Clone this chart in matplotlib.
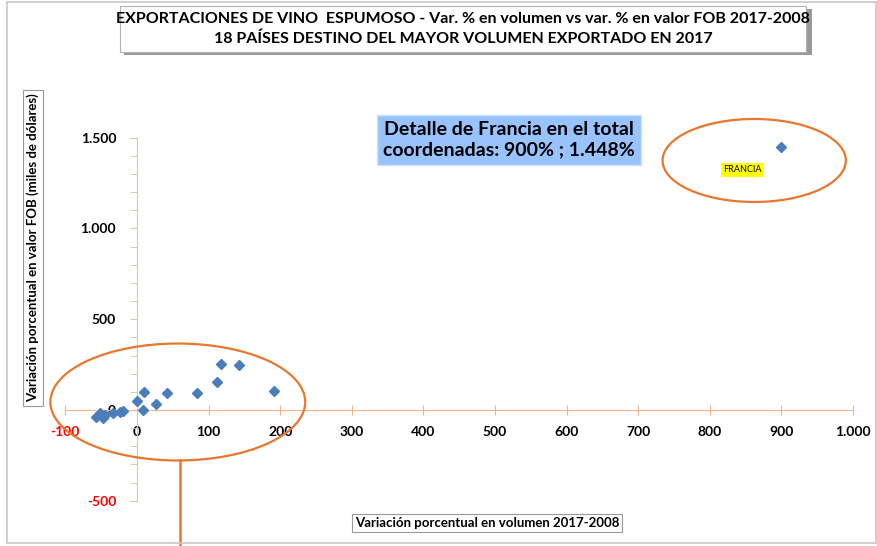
import matplotlib.pyplot as plt
from matplotlib.patches import Ellipse, Rectangle
from matplotlib.ticker import FixedLocator

plt.rcParams['font.family'] = ['Lato', 'DejaVu Sans']

# variación % en volumen (x) y en valor FOB (y), 18 países
vol_var = [-57, -52, -47, -45, -33, -24, -20, 0, 8, 10, 26, 42, 84, 112, 117, 143, 192, 900]
fob_var = [-40, -15, -46, -30, -18, -11, -4, 51, 0, 97, 33, 92, 95, 154, 255, 246, 103, 1448]

x_ticks = [-100, 0, 100, 200, 300, 400, 500, 600, 700, 800, 900, 1000]
x_labels = ['-100', '0', '100', '200', '300', '400', '500', '600', '700', '800', '900', '1.000']
y_ticks = [-500, 0, 500, 1000, 1500]
y_labels = ['-500', '0', '500', '1.000', '1.500']
y_minor = list(range(-500, 1501, 100))

title = ("EXPORTACIONES DE VINO  ESPUMOSO - Var. % en volumen vs var. % en valor FOB 2017-2008\n"
         "18 PAÍSES DESTINO DEL MAYOR VOLUMEN EXPORTADO EN 2017")
xlabel = "Variación porcentual en volumen 2017-2008"
ylabel = "Variación porcentual en valor FOB (miles de dólares)"
nota = "Detalle de Francia en el total\ncoordenadas: 900% ; 1.448%"

W, H = 878, 546
fig = plt.figure(figsize=(W / 100, H / 100), dpi=100)

# escala: pixel -> dato
x0, sx = 137, 0.716    # px del 0 en x, px por unidad
y0, sy = 410, 0.1816
ax = fig.add_axes([0, 0, 1, 1])
ax.set_xlim(-x0 / sx, (W - x0) / sx)
ax.set_ylim(-(H - y0) / sy, y0 / sy)
ax.patch.set_alpha(0)

ax.spines['top'].set_visible(False)
ax.spines['right'].set_visible(False)
ax.spines['left'].set_position(('data', 0))
ax.spines['bottom'].set_position(('data', 0))
ax.spines['left'].set_bounds(-500, 1500)
ax.spines['bottom'].set_bounds(-100, 1000)
ax.spines['left'].set_color('#c5d19e')
ax.spines['bottom'].set_color('#f5b58c')

ax.xaxis.set_major_locator(FixedLocator(x_ticks))
ax.set_xticklabels(x_labels)
ax.yaxis.set_major_locator(FixedLocator(y_ticks))
ax.set_yticklabels(y_labels)
ax.yaxis.set_minor_locator(FixedLocator(y_minor))
ax.tick_params(axis='x', direction='inout', length=7, color='#f5b58c', pad=8,
               labelsize=10)
ax.tick_params(axis='y', which='both', direction='out', length=5, color='#c5d19e',
               pad=10, labelsize=10)
for lab in ax.get_xticklabels() + ax.get_yticklabels():
    lab.set_fontweight('bold')
    if lab.get_text().startswith('-'):
        lab.set_color('red')

ax.plot(vol_var, fob_var, linestyle='none', marker='D', markersize=5,
        color='#4a7ebb', zorder=5)

# óvalos
ax.add_patch(Ellipse((57, 44), 356, 644, fill=False, edgecolor='#e8772e', lw=1.6, zorder=4))
ax.add_patch(Ellipse((862, 1374), 256, 457, fill=False, edgecolor='#e8772e', lw=1.6, zorder=4))
ax.plot([60, 60], [-278, ax.get_ylim()[0]], color='#e8772e', lw=1.8)

ax.text(845, 1322, 'FRANCIA', fontsize=6.5, ha='center', va='center',
        bbox=dict(boxstyle='square,pad=0.25', facecolor='yellow', edgecolor='none'))

# textos en coordenadas de figura
def fx(px):
    return px / W

def fy(py):
    return 1 - py / H

fig.text(fx(509), fy(140), nota, fontsize=14, fontweight='bold', ha='center', va='center',
         linespacing=1.25,
         bbox=dict(boxstyle='square,pad=0.3', facecolor='#99c3ff', edgecolor='#d0e2ff'))

# caja del título con sombra
fig.patches.append(Rectangle((fx(124), fy(55)), fx(808) - fx(120), fy(6) - fy(52),
                             transform=fig.transFigure, facecolor='#9a9a9a',
                             edgecolor='none', zorder=1))
fig.patches.append(Rectangle((fx(120), fy(52)), fx(806) - fx(120), fy(6) - fy(52),
                             transform=fig.transFigure, facecolor='white',
                             edgecolor='#b0b0b0', lw=0.8, zorder=2))
fig.text(fx(463), fy(29), title, fontsize=11.5, fontweight='bold', ha='center',
         va='center', linespacing=1.45, zorder=3)

fig.text(fx(487), fy(523), xlabel, fontsize=9.5, fontweight='bold', ha='center', va='center',
         bbox=dict(boxstyle='square,pad=0.25', facecolor='white', edgecolor='#999999', lw=0.8))
fig.text(fx(33), fy(248), ylabel, fontsize=9.5, fontweight='bold', ha='center', va='center',
         rotation=90,
         bbox=dict(boxstyle='square,pad=0.25', facecolor='white', edgecolor='#999999', lw=0.8))

# marco del gráfico
fig.patches.append(Rectangle((fx(7), fy(543)), fx(876) - fx(7), fy(2) - fy(543),
                             transform=fig.transFigure, fill=False,
                             edgecolor='#c8c8c8', lw=1.2, zorder=0))

fig.savefig('out.png', dpi=100)
